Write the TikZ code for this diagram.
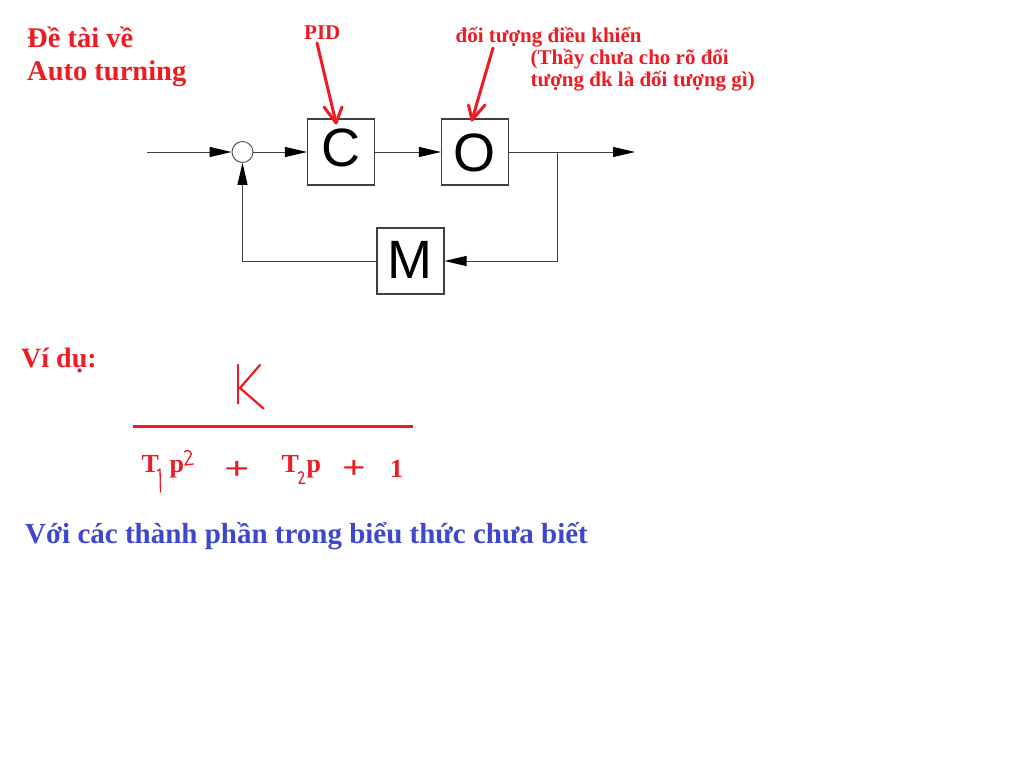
\documentclass[tikz,border=0pt]{standalone}
\usepackage{fontspec}
\setmainfont{Liberation Serif}
\newfontfamily\sansf{Liberation Sans}
\usetikzlibrary{arrows.meta}
\definecolor{myred}{RGB}{237,28,36}
\definecolor{myblue}{RGB}{63,72,204}
\definecolor{lineg}{RGB}{64,64,64}
\begin{document}
\begin{tikzpicture}[x=1pt,y=-1pt,
  blk/.style={draw=lineg, line width=1.1pt, minimum width=67pt, minimum height=66pt, inner sep=0pt},
  sumc/.style={draw=lineg, line width=0.8pt, circle, minimum size=21pt, inner sep=0pt},
  sig/.style={draw=lineg, line width=1pt, -{Triangle[length=22pt,width=10pt,color=black]}},
  letter/.style={font=\sansf\fontsize{54}{54}\selectfont, text=black, anchor=base, inner sep=0pt},
  txt/.style={anchor=base west, inner sep=0pt},
  title/.style={txt, text=myred, font=\bfseries\fontsize{28.5}{28.5}\selectfont},
  note/.style={txt, text=myred, font=\bfseries\fontsize{21}{21}\selectfont},
  den/.style={txt, text=myred, font=\bfseries\fontsize{26}{26}\selectfont},
  plussign/.style={anchor=center, inner sep=0pt, text=myred, font=\bfseries\fontsize{32}{32}\selectfont},
  ann/.style={draw=myred, line width=3pt, line cap=round, line join=round},
  hand/.style={draw=myred, line width=1.3pt, line cap=round, line join=round},
]
\useasboundingbox[fill=white] (0,0) rectangle (1024,757);

% titles
\node[title] (t1) at (27,48) {Đề tài về};
\node[title] (t2) at (27,81) {Auto turning};
\node[note] (pid) at (304,39.5) {PID};
\node[note] (obj) at (455.5,42.5) {đối tượng điều khiển};
\node[note] (q1) at (530.5,65) {(Thầy chưa cho rõ đối};
\node[note] (q2) at (530.5,86.5) {tượng đk là đối tượng gì)};

% block diagram
\node[sumc] (sum) at (242.5,152) {};
\node[blk] (C) at (341,152) {};
\node[blk] (O) at (475,152) {};
\node[blk] (M) at (410.5,261) {};
\node[letter] (Ct) at (340.5,166.5) {C};
\node[letter] (Ot) at (474.5,171) {O};
\node[letter] (Mt) at (410,278) {M};

\coordinate (in) at (147,152);
\coordinate (out) at (635,152);
\coordinate (br) at (557,152);
\draw[sig] (in) -- (sum.west);
\draw[sig] (sum.east) -- (C.west);
\draw[sig] (C.east) -- (O.west);
\draw[sig] (O.east) -- (out);
\draw[sig] (br) |- (M.east);
\draw[sig] (M.west) -| (sum.south);

% annotation arrows
\coordinate (pidA) at (317,43);
\coordinate (pidB) at (336,123);
\draw[ann] (pidA) -- (pidB);
\draw[ann] (pidB) ++(-12,-16) -- (pidB) -- ++(6,-16);
\coordinate (objA) at (493,48);
\coordinate (objB) at (472,120);
\draw[ann] (objA) -- (objB);
\draw[ann] (objB) ++(-3.5,-15) -- (objB) -- ++(13,-15);

% example
\node[title, font=\bfseries\fontsize{28}{28}\selectfont] (vd) at (21,367.5) {Ví dụ:};
\draw[draw=myred, line width=2.2pt, line cap=round] (238.3,365) -- (238.3,403.5);
\draw[draw=myred, line width=2.2pt, line cap=round, line join=round] (260,365) -- (240,388) -- (263.5,408.5);
\draw[draw=myred, line width=3pt] (133,426.5) -- (413,426.5);

\node[den] (T1) at (141.5,472.5) {T};
\node[den] (p1) at (169.5,472.5) {p};
\node[plussign] (pl1) at (237,470) {\scalebox{1.4}[1]{+}};
\node[den] (T2) at (281.5,472.5) {T};
\node[den] (p2) at (306.5,472.5) {p};
\node[plussign] (pl2) at (354,469.5) {\scalebox{1.3}[1]{+}};
\node[den] (one) at (390,477) {1};
\draw[hand] (157.5,471) -- (160,469) -- (160.5,492);
\draw[hand] (184.3,452) .. controls (186,450) and (190,449.5) .. (191.5,454) -- (185,465) -- (193.3,464);
\draw[hand] (298.3,473.5) .. controls (300,471) and (303.5,471) .. (303.5,475) -- (299,483.3) -- (305,483.3);

\node[txt, text=myblue, font=\bfseries\fontsize{29}{29}\selectfont] (conc) at (25,543) {Với các thành phần trong biểu thức chưa biết};
\end{tikzpicture}
\end{document}
